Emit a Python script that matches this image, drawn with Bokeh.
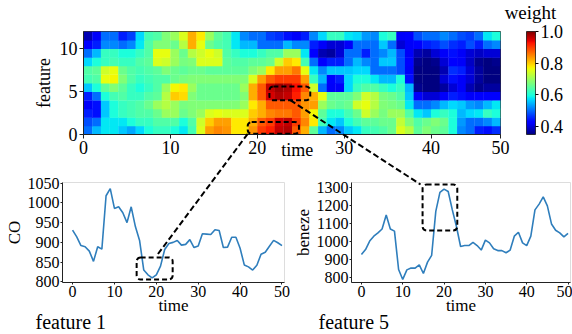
import numpy as np
from bokeh.plotting import figure
from bokeh.layouts import column, row
from bokeh.models import (ColumnDataSource, LinearColorMapper, ColorBar, FixedTicker,
                          PrintfTickFormatter, BoxAnnotation, Range1d)
from bokeh.core.properties import value
from bokeh.embed import file_html
from bokeh.resources import INLINE

FONT = "Liberation Serif"
BLUE = "#2f7ebc"

# ---------------- data: attention weights (feature rows 0..11, time columns 0..47)
w_f0 = [0.50,0.55,0.58,0.58,0.56,0.54,0.57,0.60,0.62,0.62,0.60,0.58,
        0.63,0.75,0.83,0.85,0.84,0.78,0.78,0.84,0.90,0.92,0.96,0.97,0.88,0.82,0.65,0.55,0.50,0.52,0.56,0.58,0.62,0.63,0.64,0.66,
        0.75,0.72,0.65,0.68,0.66,0.65,0.60,0.52,0.50,0.45,0.44,0.46]
w_f1 = [0.48,0.50,0.58,0.58,0.58,0.60,0.62,0.62,0.64,0.64,0.64,0.60,
        0.64,0.74,0.80,0.83,0.83,0.78,0.78,0.82,0.88,0.90,0.95,0.96,0.90,0.85,0.78,0.63,0.58,0.56,0.60,0.63,0.65,0.65,0.66,0.66,
        0.73,0.68,0.64,0.66,0.68,0.66,0.60,0.53,0.50,0.50,0.52,0.55]
w_f2 = [0.45,0.44,0.56,0.60,0.62,0.63,0.64,0.64,0.66,0.70,0.70,0.66,
        0.68,0.70,0.75,0.76,0.75,0.75,0.75,0.80,0.82,0.85,0.86,0.86,0.88,0.83,0.77,0.65,0.60,0.60,0.63,0.66,0.74,0.70,0.67,0.70,
        0.70,0.64,0.58,0.56,0.60,0.62,0.60,0.55,0.57,0.58,0.62,0.60]
w_f3 = [0.42,0.44,0.56,0.60,0.62,0.63,0.64,0.66,0.70,0.72,0.70,0.67,
        0.68,0.68,0.68,0.68,0.68,0.68,0.70,0.78,0.82,0.88,0.88,0.88,0.88,0.84,0.83,0.70,0.66,0.65,0.66,0.74,0.76,0.72,0.68,0.67,
        0.66,0.58,0.50,0.50,0.52,0.55,0.57,0.56,0.53,0.52,0.55,0.58]
w_f4 = [0.45,0.50,0.60,0.63,0.64,0.62,0.62,0.64,0.65,0.72,0.80,0.79,
        0.68,0.66,0.66,0.66,0.66,0.66,0.68,0.82,0.88,0.95,0.97,0.96,0.92,0.85,0.82,0.76,0.65,0.65,0.65,0.68,0.74,0.72,0.67,0.66,
        0.64,0.56,0.42,0.40,0.40,0.42,0.45,0.44,0.42,0.43,0.43,0.43]
w_f5 = [0.56,0.60,0.65,0.68,0.65,0.62,0.60,0.62,0.64,0.70,0.77,0.78,
        0.70,0.66,0.66,0.66,0.66,0.66,0.70,0.82,0.88,0.96,0.98,0.97,0.93,0.88,0.74,0.50,0.42,0.42,0.57,0.62,0.64,0.64,0.62,0.60,
        0.62,0.55,0.36,0.34,0.35,0.37,0.40,0.42,0.38,0.36,0.37,0.37]
w_f6 = [0.63,0.64,0.76,0.77,0.68,0.64,0.62,0.63,0.64,0.64,0.66,0.67,
        0.68,0.68,0.68,0.68,0.68,0.68,0.68,0.75,0.83,0.88,0.90,0.90,0.90,0.83,0.62,0.55,0.43,0.45,0.57,0.60,0.60,0.58,0.55,0.55,
        0.60,0.44,0.35,0.34,0.35,0.40,0.44,0.42,0.40,0.37,0.35,0.35]
w_f7 = [0.64,0.65,0.74,0.76,0.66,0.64,0.63,0.64,0.65,0.68,0.66,0.65,
        0.66,0.66,0.65,0.65,0.65,0.65,0.65,0.68,0.70,0.78,0.83,0.83,0.86,0.76,0.58,0.52,0.56,0.56,0.56,0.57,0.57,0.50,0.50,0.50,
        0.48,0.42,0.35,0.34,0.35,0.38,0.46,0.45,0.40,0.37,0.35,0.35]
w_f8 = [0.57,0.60,0.62,0.63,0.62,0.62,0.64,0.65,0.75,0.74,0.70,0.67,
        0.68,0.75,0.75,0.75,0.65,0.64,0.64,0.65,0.65,0.66,0.74,0.80,0.78,0.63,0.50,0.43,0.45,0.45,0.50,0.55,0.52,0.50,0.56,0.56,
        0.48,0.43,0.36,0.35,0.36,0.40,0.43,0.42,0.39,0.36,0.35,0.36]
w_f9 = [0.50,0.55,0.62,0.62,0.60,0.60,0.62,0.64,0.76,0.76,0.70,0.66,
        0.72,0.74,0.76,0.74,0.64,0.62,0.60,0.60,0.62,0.64,0.64,0.70,0.70,0.58,0.43,0.38,0.37,0.40,0.50,0.50,0.45,0.50,0.52,0.55,
        0.48,0.42,0.38,0.37,0.40,0.42,0.44,0.42,0.40,0.39,0.40,0.40]
w_f10 = [0.43,0.45,0.52,0.52,0.50,0.52,0.58,0.64,0.68,0.68,0.66,0.72,
         0.82,0.76,0.66,0.64,0.63,0.58,0.55,0.55,0.50,0.50,0.50,0.55,0.52,0.52,0.45,0.42,0.40,0.40,0.42,0.50,0.50,0.50,0.56,0.50,
         0.40,0.42,0.43,0.45,0.46,0.48,0.46,0.45,0.48,0.45,0.50,0.52]
w_f11 = [0.38,0.42,0.50,0.50,0.45,0.47,0.57,0.63,0.64,0.68,0.70,0.75,
         0.82,0.78,0.70,0.65,0.63,0.58,0.52,0.50,0.50,0.47,0.46,0.44,0.42,0.45,0.52,0.57,0.62,0.62,0.58,0.57,0.53,0.52,0.60,0.62,
         0.42,0.43,0.48,0.50,0.50,0.52,0.50,0.48,0.47,0.50,0.58,0.60]
weight_rows = [w_f0, w_f1, w_f2, w_f3, w_f4, w_f5, w_f6, w_f7, w_f8, w_f9, w_f10, w_f11]

heat_x_ticks = [0, 10, 20, 30, 40, 48]
heat_x_tick_labels = {48: "50"}
heat_y_ticks = [0, 5, 10]
weight_ticks = [0.4, 0.6, 0.8, 1.0]

# ---------------- data: raw series
time_steps = list(range(51))
co_values = [931, 914, 892, 889, 878, 852, 889, 883, 1018, 1036, 986, 990, 975, 950, 990, 940,
             905, 830, 818, 810, 818, 840, 882, 897, 900, 905, 893, 895, 907, 887, 891, 922,
             921, 920, 932, 930, 887, 888, 913, 913, 885, 843, 838, 830, 842, 870, 875, 890,
             905, 899, 892]
benzene_values = [930, 958, 1005, 1032, 1050, 1072, 1150, 1072, 1060, 847, 792, 845, 855, 855, 873, 825,
                  888, 926, 1170, 1275, 1293, 1280, 1178, 1086, 975, 980, 980, 998, 980, 955, 1010, 995,
                  962, 952, 952, 940, 955, 1032, 1054, 995, 980, 1032, 1178, 1210, 1250, 1200, 1100, 1065,
                  1050, 1028, 1048]
co_ticks = [800, 850, 900, 950, 1000, 1050]
benzene_ticks = [800, 900, 1000, 1100, 1200, 1300]
time_ticks = [0, 10, 20, 30, 40, 50]

# highlighted regions (data coordinates: left, right, bottom, top)
heat_box_f1 = (18.9, 24.8, 0.08, 1.45)
heat_box_f5 = (21.4, 26.1, 4.0, 5.6)
co_box = (15.3, 23.9, 806, 862)
benzene_box = (14.8, 23.2, 1064, 1319)
co_link_end = (20.0, 865)
heat_f5_link_start = (23.8, 4.0)

# ---------------- layout geometry (page pixels)
PAGE_W, PAGE_H = 572, 334
G_HEAT = dict(x=0, y=0, w=572, h=170, bl=83, br=72, bt=31, bb=36)
G_LEFT = dict(x=0, y=170, w=290, h=164, bl=62, br=6, bt=12, bb=52)
G_RIGHT = dict(x=290, y=170, w=282, h=164, bl=58, br=2, bt=12, bb=52)
HEAT_XR, HEAT_YR = (0, 48), (0, 12)
T_XR = (-2.4, 50.6)
CO_YR = (798.5, 1051.5)
BZ_YR = (775, 1330)


def frame_geom(g):
    return g["x"] + g["bl"], g["y"] + g["bt"], g["w"] - g["bl"] - g["br"], g["h"] - g["bt"] - g["bb"]


def to_page(g, xr, yr, x, y):
    left, top, fw, fh = frame_geom(g)
    return (left + (x - xr[0]) / (xr[1] - xr[0]) * fw,
            top + (yr[1] - y) / (yr[1] - yr[0]) * fh)


def jet(n=256):
    s = np.linspace(0, 1, n)
    r = np.interp(s, [0, 0.35, 0.66, 0.89, 1], [0, 0, 1, 1, 0.5])
    g = np.interp(s, [0, 0.125, 0.375, 0.64, 0.91, 1], [0, 0, 1, 1, 0, 0])
    b = np.interp(s, [0, 0.11, 0.34, 0.65, 1], [0.5, 1, 1, 0, 0])
    return ["#%02x%02x%02x" % (int(round(255 * a)), int(round(255 * c)), int(round(255 * d)))
            for a, c, d in zip(r, g, b)]


def make_fig(g, xr, yr):
    p = figure(width=g["w"], height=g["h"], x_range=Range1d(*xr), y_range=Range1d(*yr),
               output_backend="svg", toolbar_location=None,
               min_border_left=g["bl"], min_border_right=g["br"],
               min_border_top=g["bt"], min_border_bottom=g["bb"])
    p.xgrid.visible = False
    p.ygrid.visible = False
    return p


def style_axes(p, tick_size, label_size):
    for ax in p.axis:
        ax.major_label_text_font = FONT
        ax.major_label_text_font_size = tick_size
        ax.major_label_text_color = "black"
        ax.axis_label_text_font = FONT
        ax.axis_label_text_font_size = label_size
        ax.axis_label_text_font_style = "normal"
        ax.axis_label_text_color = "black"
        ax.minor_tick_line_color = None
        ax.major_tick_in = 0
        ax.axis_line_color = "#222222"
        ax.major_tick_line_color = "#222222"


def dashed_box(p, box):
    p.add_layout(BoxAnnotation(left=box[0], right=box[1], bottom=box[2], top=box[3],
                               fill_alpha=0, fill_color=None, line_color="black", line_alpha=1.0,
                               line_width=2, line_dash="5 3", border_radius=4))


# ---------------- heatmap
palette = jet()
mapper = LinearColorMapper(palette=palette, low=0.35, high=1.0)
xs, ys, ws = [], [], []
for i, r in enumerate(weight_rows):
    for j, v in enumerate(r):
        xs.append(j + 0.5)
        ys.append(i + 0.5)
        ws.append(v)
src = ColumnDataSource(dict(x=xs, y=ys, w=ws))

hp = make_fig(G_HEAT, HEAT_XR, HEAT_YR)
hp.rect(x="x", y="y", width=1, height=1, source=src, dilate=True,
        fill_color={"field": "w", "transform": mapper}, line_color=None)
hp.outline_line_color = "#333333"
hp.xaxis.ticker = FixedTicker(ticks=heat_x_ticks)
hp.xaxis.major_label_overrides = heat_x_tick_labels
hp.yaxis.ticker = FixedTicker(ticks=heat_y_ticks)
hp.yaxis.axis_label = "feature"
style_axes(hp, "18px", "18px")
for ax in hp.axis:
    ax.major_tick_out = 4
    ax.major_label_standoff = 2
hp.yaxis.axis_label_standoff = 3
dashed_box(hp, heat_box_f1)
dashed_box(hp, heat_box_f5)


# ---------------- line plots
def line_fig(g, yr, values, yticks, ylabel, box):
    p = make_fig(g, T_XR, yr)
    p.line(time_steps, values, line_color=BLUE, line_width=1.6)
    p.outline_line_color = "#dddddd"
    p.xaxis.ticker = FixedTicker(ticks=time_ticks)
    p.yaxis.ticker = FixedTicker(ticks=yticks)
    p.xaxis.axis_label = "time"
    p.yaxis.axis_label = ylabel
    style_axes(p, "16px", "17px")
    for ax in p.axis:
        ax.major_tick_out = 2
        ax.major_label_standoff = 1
    p.xaxis.axis_label_standoff = -4
    p.yaxis.axis_label_standoff = 1
    dashed_box(p, box)
    return p


lp = line_fig(G_LEFT, CO_YR, co_values, co_ticks, "CO", co_box)
rp = line_fig(G_RIGHT, BZ_YR, benzene_values, benzene_ticks, "beneze", benzene_box)

# ---------------- overlay spanning the whole picture: links, colour bar, free texts
ov = figure(width=PAGE_W, height=PAGE_H, x_range=Range1d(0, PAGE_W), y_range=Range1d(PAGE_H, 0),
            x_axis_type=None, y_axis_type=None, output_backend="svg", toolbar_location=None,
            min_border=0, outline_line_color=None)
ov.background_fill_alpha = 0
ov.border_fill_alpha = 0

s1 = to_page(G_HEAT, HEAT_XR, HEAT_YR, heat_box_f1[0], heat_box_f1[2])
e1 = to_page(G_LEFT, T_XR, CO_YR, *co_link_end)
s2 = to_page(G_HEAT, HEAT_XR, HEAT_YR, *heat_f5_link_start)
e2 = to_page(G_RIGHT, T_XR, BZ_YR, benzene_box[0], benzene_box[3])
ov.segment(x0=[s1[0], s2[0]], y0=[s1[1], s2[1]], x1=[e1[0], e2[0]], y1=[e1[1], e2[1]],
           line_color="black", line_width=2, line_dash="6 3")

hf_left, hf_top, hf_w, hf_h = frame_geom(G_HEAT)
cb = ColorBar(color_mapper=mapper, width=9, height=hf_h, padding=0,
              location=(hf_left + hf_w + 26, PAGE_H - (hf_top + hf_h)),
              ticker=FixedTicker(ticks=weight_ticks), formatter=PrintfTickFormatter(format="%.1f"),
              major_label_text_font=FONT, major_label_text_font_size="18px",
              major_label_text_color="black",
              major_tick_in=0, major_tick_out=3, major_tick_line_color="black",
              label_standoff=2, bar_line_color="black", bar_line_width=0.7,
              border_line_color=None, background_fill_alpha=0)
ov.add_layout(cb, "center")

lf_left = frame_geom(G_LEFT)[0]
rf_left = frame_geom(G_RIGHT)[0]
text_src = ColumnDataSource(dict(
    x=[to_page(G_HEAT, HEAT_XR, HEAT_YR, 24.6, 0)[0], hf_left + hf_w + 30, lf_left - 27, rf_left - 30],
    y=[hf_top + hf_h + 15, hf_top - 19, PAGE_H - 13, PAGE_H - 13],
    text=["time", "weight", "feature 1", "feature 5"],
    size=["18px", "19px", "20px", "20px"],
    align=["center", "center", "left", "left"],
    base=["middle", "middle", "alphabetic", "alphabetic"],
))
ov.text(x="x", y="y", text="text", source=text_src, text_font=value(FONT),
        text_font_size="size", text_align="align", text_baseline="base", text_color="black")

# the overlay is pulled up over the panels; wrapping keeps Bokeh from aligning its frame
overlay_box = row(ov, margin=(-PAGE_H, 0, 0, 0))
layout = column(row(hp), row(lp, rp), overlay_box)
open("out.html", "w").write(file_html(layout, INLINE))
